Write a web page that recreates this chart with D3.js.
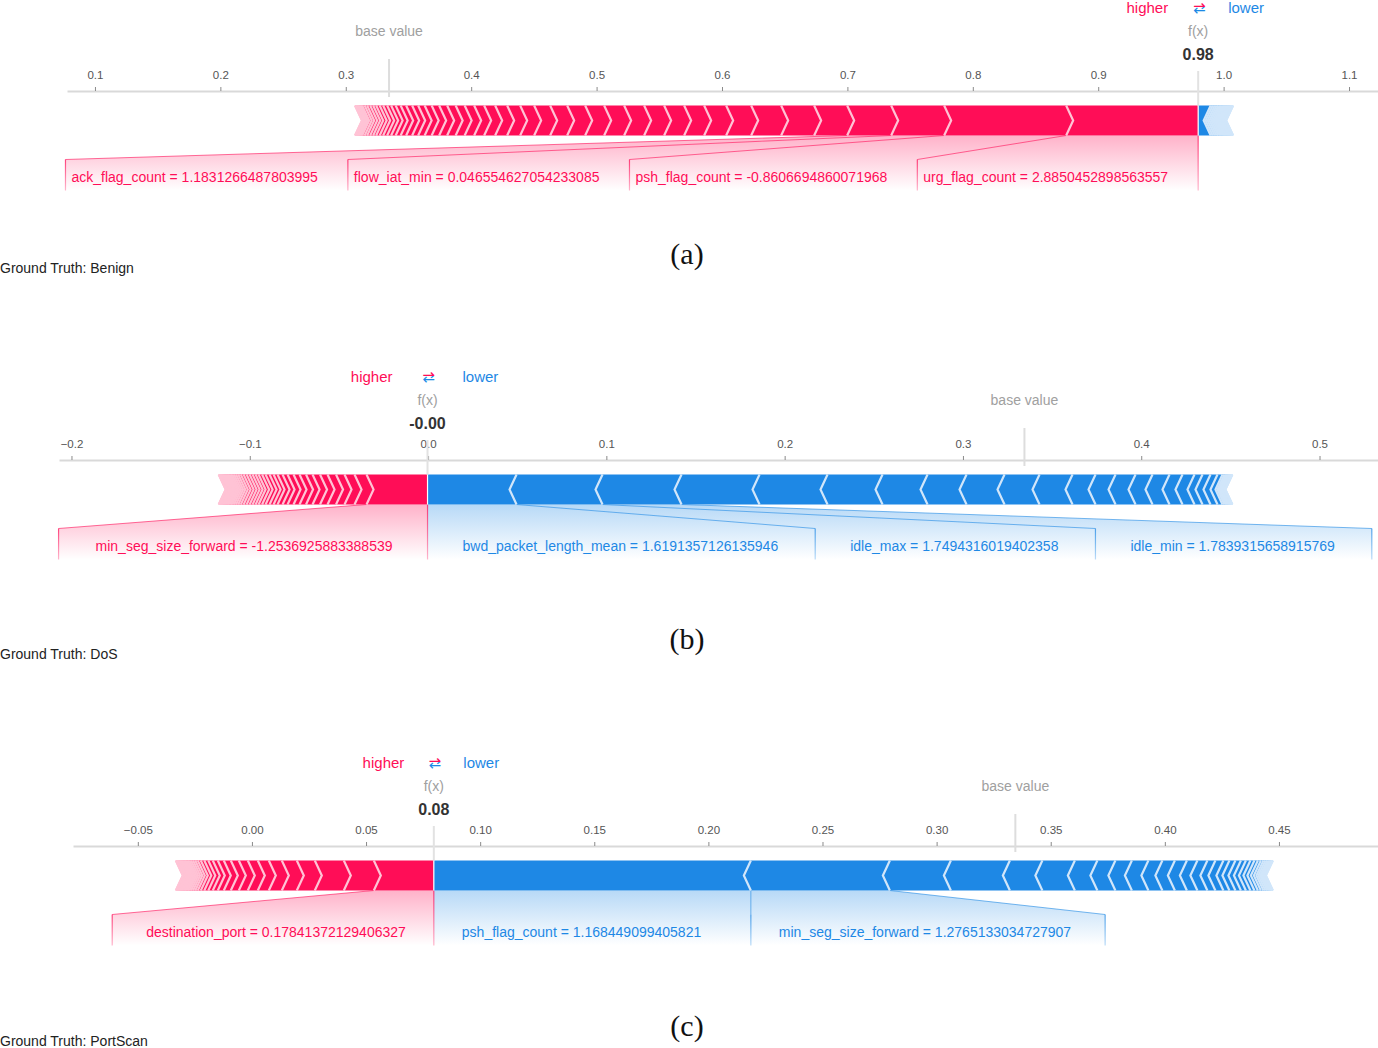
<!DOCTYPE html>
<html>
<head>
<meta charset="utf-8">
<script src="https://cdn.jsdelivr.net/npm/d3@7"></script>
<style>
  html, body { margin: 0; padding: 0; background: #fff; }
  svg { display: block; }
</style>
</head>
<body>
<svg id="chart" width="1378" height="1048"></svg>
<script>
// ---------------- DATA ----------------
const captions = ["(a)", "(b)", "(c)"];
const groundTruth = ["Ground Truth: Benign", "Ground Truth: DoS", "Ground Truth: PortScan"];
const baseValues = [0.3345, 0.3345, 0.3345];
const fxValues = [0.9797, -0.0003, 0.0797];

// visible axis extents (value units)
const domainA = [0.0777, 1.1231];
const domainB = [-0.2070, 0.5328];
const domainC = [-0.0784, 0.4934];

// tick labels
const ticksA = [0.1, 0.2, 0.3, 0.4, 0.5, 0.6, 0.7, 0.8, 0.9, 1.0, 1.1];
const ticksB = [-0.2, -0.1, 0.0, 0.1, 0.2, 0.3, 0.4, 0.5];
const ticksC = [-0.05, 0.00, 0.05, 0.10, 0.15, 0.20, 0.25, 0.30, 0.35, 0.40, 0.45];

// labelled features, ordered outward from f(x)
const posLabelsA = ["urg_flag_count = 2.8850452898563557", "psh_flag_count = -0.8606694860071968",
                    "flow_iat_min = 0.046554627054233085", "ack_flag_count = 1.1831266487803995"];
const negLabelsA = [];
const posLabelsB = ["min_seg_size_forward = -1.2536925883388539"];
const negLabelsB = ["bwd_packet_length_mean = 1.6191357126135946", "idle_max = 1.7494316019402358",
                    "idle_min = 1.7839315658915769"];
const posLabelsC = ["destination_port = 0.17841372129406327"];
const negLabelsC = ["psh_flag_count = 1.168449099405821", "min_seg_size_forward = 1.2765133034727907"];

// SHAP effects (sorted by magnitude, outward from f(x))
const posEffectsA = [0.10526, 0.09729, 0.04226, 0.03509, 0.02632, 0.02631, 0.02392, 0.01994, 0.01754,
  0.01596, 0.01595, 0.01595, 0.01594, 0.01594, 0.01515, 0.01435, 0.01356, 0.01276, 0.01116, 0.01037,
  0.00957, 0.00877, 0.00797, 0.00758, 0.00718, 0.00678, 0.00638, 0.00598, 0.00558, 0.00518, 0.00479,
  0.00478, 0.00439, 0.00399, 0.00359, 0.00319, 0.00318, 0.00279, 0.00278, 0.00239, 0.00239, 0.00238,
  0.00199, 0.00198, 0.0012, 0.00096, 0.0008, 0.00064, 0.00056, 0.00048, 0.0004, 0.00032, 0.00024, 0.00016];
const negEffectsA = [0.00997, 0.0016, 0.0016, 0.0015, 0.0014, 0.0013, 0.0012, 0.0011, 0.0010, 0.0010,
  0.0009, 0.0009, 0.0008, 0.0008, 0.0007, 0.0006, 0.0005, 0.0004, 0.0003, 0.0002, 0.0001];

const posEffectsB = [0.03421, 0.00673, 0.00561, 0.00477, 0.00476, 0.00421, 0.0042, 0.00365, 0.00364,
  0.00337, 0.00336, 0.0028, 0.0028, 0.00224, 0.00224, 0.00224, 0.00196, 0.00196, 0.00168, 0.00168,
  0.00168, 0.00168, 0.00168, 0.00157, 0.0014, 0.00123, 0.00112, 0.00101, 0.0009, 0.00084, 0.00079,
  0.00073, 0.00067, 0.00062, 0.00056, 0.0005, 0.00045, 0.00039, 0.00034, 0.00028, 0.00022, 0.00017,
  0.00011, 0.00006];
const negEffectsB = [0.04992, 0.04823, 0.04431, 0.04375, 0.03814, 0.03085, 0.02524, 0.02187, 0.02131,
  0.01963, 0.01851, 0.0129, 0.01122, 0.01121, 0.00953, 0.00953, 0.00729, 0.00673, 0.00449, 0.00448,
  0.00393, 0.0028, 0.00112, 0.0009, 0.00073, 0.00062, 0.0005, 0.00045, 0.00039, 0.00028, 0.00022,
  0.00017, 0.00011, 0.00006];

const posEffectsC = [0.02629, 0.01315, 0.01271, 0.00789, 0.00657, 0.0057, 0.00482, 0.00438, 0.00394,
  0.00351, 0.00307, 0.00263, 0.00219, 0.00197, 0.00175, 0.00153, 0.00131, 0.0011, 0.00096, 0.00088,
  0.00079, 0.0007, 0.00066, 0.00061, 0.00057, 0.00053, 0.00048, 0.00044, 0.00039, 0.00035, 0.00031,
  0.00026, 0.00022, 0.00018, 0.00013, 0.00009];
const negEffectsC = [0.13891, 0.06091, 0.02673, 0.02585, 0.01424, 0.01424, 0.00986, 0.00789, 0.00723,
  0.00723, 0.00613, 0.00548, 0.00526, 0.0046, 0.00438, 0.00351, 0.00351, 0.00263, 0.00263, 0.00241,
  0.00219, 0.00197, 0.00175, 0.00153, 0.00131, 0.0011, 0.00088, 0.00079, 0.00066, 0.00053, 0.00044,
  0.00035, 0.00026, 0.00018, 0.00009];

// ---------------- STYLE / LAYOUT ----------------
const W = 1378;
const POS = "#ff0d57", NEG = "#1e88e5";
const POS_B = d3.hsl(POS).brighter(1.45).formatHex();
const NEG_B = d3.hsl(NEG).brighter(1.6).formatHex();
const FONT = "'Liberation Sans', Arial, Helvetica, sans-serif";

const panels = [
  { fx: fxValues[0], base: baseValues[0], domain: domainA, ticks: ticksA, fmt: ".1f",
    posEffects: posEffectsA, negEffects: negEffectsA, posLabels: posLabelsA, negLabels: negLabelsA },
  { fx: fxValues[1], base: baseValues[1], domain: domainB, ticks: ticksB, fmt: ".1f",
    posEffects: posEffectsB, negEffects: negEffectsB, posLabels: posLabelsB, negLabels: negLabelsB },
  { fx: fxValues[2], base: baseValues[2], domain: domainC, ticks: ticksC, fmt: ".2f",
    posEffects: posEffectsC, negEffects: negEffectsC, posLabels: posLabelsC, negLabels: negLabelsC }
];
const layouts = [
  { axisY: 91,  range: [67, W], nearInset: 30, farPad: 6,  legendGap: 30,   captionY: 263.5, truthY: 273 },
  { axisY: 460, range: [59, W], nearInset: 35, farPad: 37, legendGap: 35,   captionY: 648.5, truthY: 659 },
  { axisY: 846, range: [73, W], nearInset: 28, farPad: 34, legendGap: 29.5, captionY: 1035.5, truthY: 1046 }
];

const svg = d3.select("#chart");
const defs = svg.append("defs");
function vgrad(id, color, o0, o1) {
  const lg = defs.append("linearGradient").attr("id", id)
    .attr("x1", 0).attr("y1", 0).attr("x2", 0).attr("y2", 1);
  lg.append("stop").attr("offset", "0%").attr("stop-color", color).attr("stop-opacity", o0);
  lg.append("stop").attr("offset", "100%").attr("stop-color", color).attr("stop-opacity", o1);
}
vgrad("bg-pos", POS, 0.32, 0);
vgrad("bg-neg", NEG, 0.32, 0);
vgrad("dv-pos", POS, 0.75, 0.3);
vgrad("dv-neg", NEG, 0.75, 0.3);

const line = d3.line();

function drawPanel(p, L, k) {
  const g = svg.append("g");
  const x = d3.scaleLinear().domain(p.domain).range(L.range);
  const A = L.axisY;
  const barTop = A + 14.5, barBot = barTop + 30, barMid = barTop + 15;
  const boxTop = barBot + 24, boxBot = barBot + 55, textY = barBot + 46;
  const SH = 7;
  const fxPx = x(p.fx);

  const bgLayer = g.append("g"), lineLayer = g.append("g"), barLayer = g.append("g"),
        divLayer = g.append("g"), textLayer = g.append("g"), topLayer = g.append("g");

  // axis
  const axis = d3.axisTop(x).tickValues(p.ticks).tickFormat(d3.format(p.fmt))
    .tickSize(4).tickSizeOuter(0).tickPadding(7.7);
  const ag = topLayer.append("g").attr("transform", `translate(0,${A})`).call(axis);
  ag.attr("font-family", FONT).attr("font-size", 11.5);
  ag.select(".domain").attr("stroke", "#d9d9d9").attr("stroke-width", 2);
  ag.selectAll(".tick line").attr("stroke", "#8a8a8a");
  ag.selectAll(".tick text").attr("fill", "#555").attr("font-size", 11.5).attr("font-family", FONT);

  // base value line and text
  const bx = x(p.base);
  topLayer.append("line").attr("x1", bx).attr("x2", bx).attr("y1", A - 32).attr("y2", A + 6)
    .attr("stroke", "#dddddd").attr("stroke-width", 2);
  topLayer.append("text").attr("x", bx).attr("y", A - 55).attr("text-anchor", "middle")
    .attr("font-family", FONT).attr("font-size", 14).attr("fill", "#a0a0a0").text("base value");

  // f(x) line and texts
  topLayer.append("line").attr("x1", fxPx).attr("x2", fxPx).attr("y1", A - 20).attr("y2", barTop)
    .attr("stroke", "#e2e2e2").attr("stroke-width", 2);
  topLayer.append("text").attr("x", fxPx).attr("y", A - 55).attr("text-anchor", "middle")
    .attr("font-family", FONT).attr("font-size", 14).attr("fill", "#a0a0a0").text("f(x)");
  topLayer.append("text").attr("x", fxPx).attr("y", A - 31).attr("text-anchor", "middle")
    .attr("font-family", FONT).attr("font-size", 16).attr("font-weight", "bold").attr("fill", "#333")
    .text(p.fx.toFixed(2));

  // legend: higher ⇄ lower (arrow glyph coloured red on top half, blue on bottom half)
  const ag2 = defs.append("linearGradient").attr("id", `arr-${k}`).attr("gradientUnits", "userSpaceOnUse")
    .attr("x1", 0).attr("x2", 0).attr("y1", A - 90).attr("y2", A - 78);
  ag2.append("stop").attr("offset", "0%").attr("stop-color", POS);
  ag2.append("stop").attr("offset", "50%").attr("stop-color", POS);
  ag2.append("stop").attr("offset", "50%").attr("stop-color", NEG);
  ag2.append("stop").attr("offset", "100%").attr("stop-color", NEG);
  topLayer.append("text").attr("x", fxPx - L.legendGap).attr("y", A - 78.5).attr("text-anchor", "end")
    .attr("font-family", FONT).attr("font-size", 15).attr("fill", POS).text("higher");
  topLayer.append("text").attr("x", fxPx + L.legendGap).attr("y", A - 78.5).attr("text-anchor", "start")
    .attr("font-family", FONT).attr("font-size", 15).attr("fill", NEG).text("lower");
  topLayer.append("text").attr("x", fxPx + 1).attr("y", A - 78.5).attr("text-anchor", "middle")
    .attr("font-family", "'DejaVu Sans', sans-serif").attr("font-size", 15)
    .attr("fill", `url(#arr-${k})`).text("⇄");

  // blocks
  const pos = [], neg = [];
  let c = p.fx;
  p.posEffects.forEach((e, i) => { const near = x(c); c -= e; pos.push({ i, near, far: x(c) }); });
  c = p.fx;
  p.negEffects.forEach((e, i) => { const near = x(c); c += e; neg.push({ i, near, far: x(c) }); });

  barLayer.selectAll("path.bp").data(pos).join("path").attr("class", "bp")
    .attr("d", d => line([[d.far, barTop], [d.near, barTop], [d.near + (d.i === 0 ? 0 : SH), barMid],
                          [d.near, barBot], [d.far, barBot], [d.far + SH, barMid]]) + "Z")
    .attr("fill", POS);
  barLayer.selectAll("path.bn").data(neg).join("path").attr("class", "bn")
    .attr("d", d => line([[d.near, barTop], [d.far, barTop], [d.far - SH, barMid],
                          [d.far, barBot], [d.near, barBot], [d.near - (d.i === 0 ? 0 : SH), barMid]]) + "Z")
    .attr("fill", NEG);

  divLayer.selectAll("path.dp").data(pos).join("path").attr("class", "dp")
    .attr("d", d => line([[d.far, barTop], [d.far + SH, barMid], [d.far, barBot]]))
    .attr("fill", "none").attr("stroke", POS_B).attr("stroke-width", 2.2);
  divLayer.selectAll("path.dn").data(neg).join("path").attr("class", "dn")
    .attr("d", d => line([[d.far, barTop], [d.far - SH, barMid], [d.far, barBot]]))
    .attr("fill", "none").attr("stroke", NEG_B).attr("stroke-width", 2.2);
  divLayer.append("line").attr("x1", fxPx).attr("x2", fxPx).attr("y1", barTop).attr("y2", barBot)
    .attr("stroke", "#ffffff").attr("stroke-width", 1.2);

  // labels
  const labs = [];
  let boxNear = fxPx;
  p.posLabels.forEach((t, i) => {
    const b = pos[i];
    const tx = textLayer.append("text").attr("x", boxNear - L.nearInset).attr("y", textY)
      .attr("text-anchor", "end").attr("font-family", FONT).attr("font-size", 14).attr("fill", POS).text(t);
    const w = tx.node().getComputedTextLength();
    const boxFar = Math.min(boxNear - L.nearInset - w - L.farPad, b.far);
    labs.push({ sign: 1, boxNear, boxFar, blockNear: b.near, blockFar: b.far });
    boxNear = boxFar;
  });
  boxNear = fxPx;
  p.negLabels.forEach((t, i) => {
    const b = neg[i];
    const tx = textLayer.append("text").attr("x", boxNear + L.nearInset).attr("y", textY)
      .attr("text-anchor", "start").attr("font-family", FONT).attr("font-size", 14).attr("fill", NEG).text(t);
    const w = tx.node().getComputedTextLength();
    const boxFar = Math.max(boxNear + L.nearInset + w + L.farPad, b.far);
    labs.push({ sign: -1, boxNear, boxFar, blockNear: b.near, blockFar: b.far });
    boxNear = boxFar;
  });

  bgLayer.selectAll("path").data(labs).join("path")
    .attr("d", d => line([[d.blockNear, barBot], [d.blockFar, barBot], [d.boxFar, boxTop], [d.boxFar, boxBot],
                          [d.boxNear, boxBot], [d.boxNear, boxTop]]) + "Z")
    .attr("fill", d => d.sign > 0 ? "url(#bg-pos)" : "url(#bg-neg)");
  lineLayer.selectAll("line.link").data(labs).join("line").attr("class", "link")
    .attr("x1", d => d.blockFar).attr("y1", barBot).attr("x2", d => d.boxFar).attr("y2", boxTop)
    .attr("stroke", d => d.sign > 0 ? POS : NEG).attr("stroke-opacity", 0.6).attr("stroke-width", 1);
  lineLayer.selectAll("rect.div").data(labs).join("rect").attr("class", "div")
    .attr("x", d => d.boxFar - 0.6).attr("y", boxTop).attr("width", 1.2).attr("height", boxBot - boxTop)
    .attr("fill", d => d.sign > 0 ? "url(#dv-pos)" : "url(#dv-neg)");
  lineLayer.append("rect").attr("x", fxPx - 0.6).attr("y", barBot).attr("width", 1.2)
    .attr("height", boxBot - barBot).attr("fill", "url(#dv-pos)");

  // caption and ground truth
  svg.append("text").attr("x", 687).attr("y", L.captionY).attr("text-anchor", "middle")
    .attr("font-family", "'Liberation Serif', 'DejaVu Serif', serif").attr("font-size", 30)
    .attr("fill", "#111").text(captions[k]);
  svg.append("text").attr("x", 0).attr("y", L.truthY).attr("text-anchor", "start")
    .attr("font-family", FONT).attr("font-size", 14).attr("fill", "#222").text(groundTruth[k]);
}

panels.forEach((p, k) => drawPanel(p, layouts[k], k));
</script>
</body>
</html>
